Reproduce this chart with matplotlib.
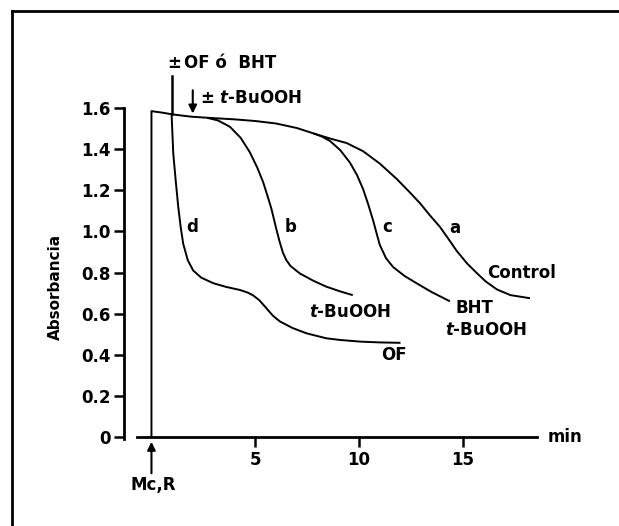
import numpy as np
import matplotlib
matplotlib.use('Agg')
import matplotlib.pyplot as plt
from matplotlib.lines import Line2D

# shared start: jump at t=0 (Mc,R added) then slow decline
t_base = [0, 0, 0.5, 0.97, 1.5, 1.93, 2.66]
a_base = [0, 1.585, 1.578, 1.57, 1.563, 1.558, 1.553]

# d: OF added at ~1 min
t_d = [0.97, 1.05, 1.17, 1.29, 1.41, 1.53, 1.75, 2.01, 2.4, 2.98, 3.6, 4.27, 4.65, 4.91,
       5.2, 5.55, 5.85, 6.19, 6.8, 7.48, 8.43, 9.08, 10.05, 11.0, 12.0]
a_d = [1.57, 1.38, 1.245, 1.12, 1.02, 0.94, 0.86, 0.81, 0.775, 0.748, 0.73, 0.715, 0.702, 0.688,
       0.665, 0.625, 0.59, 0.562, 0.53, 0.504, 0.48, 0.472, 0.464, 0.46, 0.458]

# b: t-BuOOH
t_b = [2.66, 3.2, 3.78, 4.3, 4.74, 5.1, 5.38, 5.6, 5.78, 5.9, 6.02, 6.18, 6.34, 6.5, 6.7, 7.14,
       7.8, 8.43, 9.1, 9.7]
a_b = [1.553, 1.54, 1.509, 1.455, 1.385, 1.31, 1.24, 1.17, 1.11, 1.06, 1.01, 0.948, 0.895,
       0.86, 0.832, 0.796, 0.76, 0.731, 0.708, 0.69]

# shared part of a and c
t_ac = [2.66, 4.0, 5.0, 6.0, 7.0, 7.8]
a_ac = [1.553, 1.545, 1.537, 1.525, 1.503, 1.477]

# c: BHT + t-BuOOH
t_c = [7.8, 8.2, 8.6, 9.1, 9.56, 9.9, 10.2, 10.45, 10.69, 10.85, 11.0, 11.3, 11.65, 12.2,
       12.77, 13.5, 14.38]
a_c = [1.477, 1.462, 1.44, 1.395, 1.335, 1.275, 1.205, 1.13, 1.05, 0.99, 0.935, 0.87, 0.826,
       0.783, 0.748, 0.705, 0.66]

# a: Control
t_a = [7.8, 8.6, 9.4, 10.2, 11.0, 11.82, 12.4, 12.95, 13.4, 13.9, 14.3, 14.71, 15.2, 15.67,
       16.1, 16.64, 17.3, 18.24]
a_a = [1.477, 1.452, 1.43, 1.39, 1.33, 1.255, 1.195, 1.136, 1.08, 1.022, 0.965, 0.905, 0.845,
       0.798, 0.757, 0.718, 0.69, 0.675]

y_ticks = [0, 0.2, 0.4, 0.6, 0.8, 1.0, 1.2, 1.4, 1.6]
y_labels = ['0', '0.2', '0.4', '0.6', '0.8', '1.0', '1.2', '1.4', '1.6']
x_ticks = [5, 10, 15]

plt.rcParams['font.family'] = ['DejaVu Sans']
plt.rcParams['font.weight'] = 'bold'
plt.rcParams['mathtext.default'] = 'it'
fs = 12

fig = plt.figure(figsize=(6.19, 5.26), dpi=100)
ax = fig.add_axes([0.2011, 0.1614, 0.7309, 0.6918])
ax.set_xlim(-1.3, 20.5)
ax.set_ylim(-0.02, 1.75)

lw = 1.4
for tt, aa in [(t_base, a_base), (t_d, a_d), (t_b, a_b), (t_ac, a_ac), (t_c, a_c), (t_a, a_a)]:
    ax.plot(tt, aa, color='k', lw=lw, solid_capstyle='butt', solid_joinstyle='round')

for s in ['top', 'right']:
    ax.spines[s].set_visible(False)
ax.spines['left'].set_bounds(-0.01, 1.6)
ax.spines['left'].set_linewidth(2)
ax.spines['bottom'].set_position(('data', 0))
ax.spines['bottom'].set_bounds(-0.7, 18.6)
ax.spines['bottom'].set_linewidth(2)

ax.set_yticks(y_ticks)
ax.set_yticklabels(y_labels, fontsize=fs, fontweight='bold')
ax.set_xticks(x_ticks)
ax.set_xticklabels([str(x) for x in x_ticks], fontsize=fs, fontweight='bold')
ax.tick_params(axis='both', direction='out', length=7, width=1.8, pad=3)

ax.text(-4.65, 0.73, 'Absorbancia', rotation=90, fontsize=11, ha='center', va='center')
ax.text(19.1, 0.0, 'min', fontsize=fs, ha='left', va='center')

# additions
ax.annotate('', xy=(0, -0.01), xytext=(0, -0.19),
            arrowprops=dict(arrowstyle='-|>', color='k', lw=1.5, mutation_scale=12))
ax.text(0.1, -0.19, 'Mc,R', fontsize=fs, ha='center', va='top')

ax.plot([1.0, 1.0], [1.57, 1.755], color='k', lw=1.8, clip_on=False)
ax.text(0.75, 1.82, '±', fontsize=fs, ha='left', va='center')
ax.text(1.55, 1.82, 'OF ó  BHT', fontsize=fs, ha='left', va='center')
ax.annotate('', xy=(1.99, 1.56), xytext=(1.99, 1.7),
            arrowprops=dict(arrowstyle='-|>', color='k', lw=1.5, mutation_scale=12))
ax.text(2.35, 1.65, '± $t$-BuOOH', fontsize=fs, ha='left', va='center')

ax.text(1.95, 1.02, 'd', fontsize=fs, ha='center', va='center')
ax.text(6.7, 1.02, 'b', fontsize=fs, ha='center', va='center')
ax.text(11.35, 1.02, 'c', fontsize=fs, ha='center', va='center')
ax.text(14.6, 1.015, 'a', fontsize=fs, ha='center', va='center')
ax.text(17.85, 0.80, 'Control', fontsize=fs, ha='center', va='center')
ax.text(9.55, 0.608, '$t$-BuOOH', fontsize=fs, ha='center', va='center')
ax.text(11.7, 0.40, 'OF', fontsize=fs, ha='center', va='center')
ax.text(15.55, 0.627, 'BHT', fontsize=fs, ha='center', va='center')
ax.text(16.1, 0.52, '$t$-BuOOH', fontsize=fs, ha='center', va='center')

# outer frame (top and left edges only visible)
fig.add_artist(Line2D([0.019, 1.0], [0.979, 0.979], color='k', lw=2, transform=fig.transFigure))
fig.add_artist(Line2D([0.019, 0.019], [0.0, 0.979], color='k', lw=2, transform=fig.transFigure))

fig.savefig('out.png', dpi=100)
